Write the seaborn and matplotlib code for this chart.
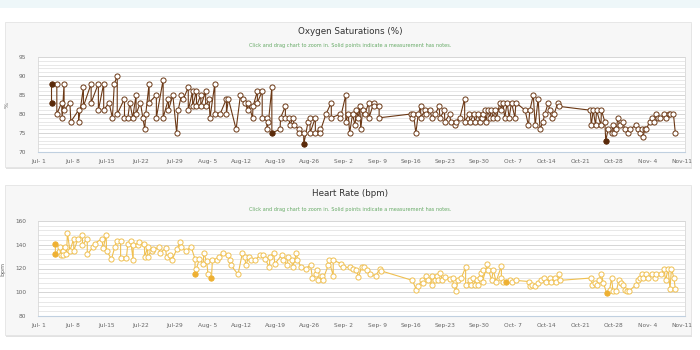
import matplotlib
matplotlib.use('Agg')
import matplotlib.pyplot as plt
from matplotlib.patches import Rectangle
from matplotlib.ticker import MultipleLocator
import pandas as pd
import seaborn as sns

START = pd.Timestamp('2014-07-01')

# oxygen saturation, days after Jul 1 and values (%)
o2_days = [2.6, 2.6, 3.7, 3.7, 4.7, 4.8, 5.2, 5.2, 6.4, 6.6,
           8.2, 8.2, 9.2, 9.2, 10.8, 10.8, 12.3, 12.3, 13.4, 13.4,
           14.5, 15.2, 15.6, 16.2, 16.2, 17.7, 17.7, 18.4, 18.8, 19.4,
           20.1, 20.1, 21.0, 21.5, 21.9, 22.1, 22.8, 22.8, 24.3, 24.3,
           25.7, 25.7, 26.8, 26.8, 27.7, 28.5, 28.8, 29.5, 29.9, 30.9,
           30.9, 31.8, 31.8, 32.6, 32.6, 33.5, 33.5, 34.5, 34.5, 35.2,
           35.4, 36.4, 36.4, 37.5, 38.8, 38.8, 39.2, 40.8, 41.7, 42.3,
           42.7, 43.2, 43.3, 44.2, 44.3, 45.2, 45.2, 46.2, 46.2, 47.1,
           47.2, 47.5, 48.2, 48.2, 49.9, 50.0, 51.0, 51.0, 51.8, 51.9,
           52.6, 52.8, 53.9, 53.9, 54.8, 54.8, 55.7, 56.1, 56.1, 57.2,
           57.2, 58.1, 58.1, 59.4, 60.5, 60.5, 62.4, 62.4, 63.5, 63.5,
           64.0, 64.3, 64.9, 65.4, 65.7, 66.1, 66.4, 66.6, 67.0, 67.4,
           68.3, 68.3, 69.3, 69.3, 70.4, 70.4, 77.0, 77.1, 77.5, 78.0,
           78.5, 79.0, 79.0, 79.9, 80.2, 80.9, 81.3, 82.0, 82.8, 83.0,
           83.9, 84.0, 85.0, 85.2, 86.1, 86.3, 87.1, 88.1, 88.1, 89.0,
           89.2, 90.0, 90.2, 90.9, 91.2, 91.6, 91.9, 92.3, 92.5, 92.9,
           93.3, 93.6, 94.0, 94.4, 94.7, 95.4, 95.7, 96.0, 96.4, 96.9,
           97.3, 97.8, 98.5, 98.7, 100.6, 101.3, 101.6, 102.3, 102.7, 103.3,
           103.7, 104.3, 104.7, 105.4, 105.7, 106.1, 106.6, 107.4, 107.7, 114.1,
           114.3, 114.7, 115.2, 115.4, 116.3, 116.4, 117.1, 117.3, 117.8, 118.5,
           118.8, 119.1, 119.5, 119.8, 120.2, 120.9, 121.2, 121.9, 122.3, 123.5,
           124.0, 124.3, 124.7, 125.0, 125.4, 125.7, 126.4, 126.8, 127.3, 127.7,
           128.2, 128.6, 129.4, 129.8, 130.3, 130.6, 131.3, 131.7]
o2_vals = [83, 88, 88, 80, 83, 79, 88, 81, 83, 78,
           81, 78, 87, 82, 88, 83, 88, 81, 88, 81,
           83, 79, 88, 90, 80, 84, 79, 79, 83, 79,
           85, 80, 83, 79, 76, 80, 88, 83, 85, 79,
           89, 79, 84, 81, 85, 75, 81, 85, 84, 87,
           81, 86, 82, 86, 82, 85, 82, 86, 82, 84,
           79, 88, 80, 80, 84, 80, 84, 76, 85, 84,
           83, 81, 83, 79, 82, 86, 83, 86, 79, 79,
           76, 78, 87, 75, 76, 79, 82, 79, 79, 77,
           79, 77, 76, 75, 75, 72, 78, 79, 75, 79,
           75, 76, 75, 80, 83, 79, 80, 79, 85, 78,
           80, 75, 80, 77, 81, 79, 82, 76, 81, 80,
           83, 79, 83, 82, 82, 79, 80, 79, 80, 75,
           80, 82, 79, 81, 80, 81, 79, 80, 82, 79,
           81, 78, 80, 78, 77, 78, 79, 84, 78, 80,
           78, 80, 78, 80, 78, 79, 80, 81, 78, 81,
           79, 81, 79, 81, 79, 83, 81, 83, 79, 83,
           79, 83, 79, 83, 81, 77, 81, 85, 77, 84,
           76, 78, 80, 83, 81, 79, 80, 83, 82, 81,
           77, 81, 77, 81, 77, 81, 78, 73, 76, 75,
           77, 75, 76, 79, 77, 78, 76, 75, 76, 77,
           76, 75, 76, 74, 76, 76, 78, 79, 78, 80,
           79, 79, 80, 79, 80, 80, 80, 75]
o2_note_days = [2.6, 2.6, 48.2, 54.8, 117.3]
o2_note_vals = [83, 88, 75, 72, 73]

# heart rate, days after Jul 1 and values (bpm)
hr_days = [3.4, 3.4, 4.3, 4.5, 5.0, 5.0, 5.4, 5.7, 5.9, 6.4,
           7.2, 7.2, 8.1, 9.0, 9.0, 10.0, 10.0, 11.2, 11.5, 13.0,
           13.3, 13.9, 14.0, 15.0, 15.7, 16.1, 16.9, 16.9, 18.1, 18.4,
           19.0, 19.5, 19.5, 20.6, 20.8, 21.8, 21.9, 22.5, 22.5, 23.3,
           23.7, 24.9, 25.0, 26.2, 26.4, 27.1, 27.5, 28.5, 29.2, 29.5,
           30.4, 31.5, 32.3, 32.3, 32.6, 33.2, 34.0, 34.1, 34.7, 35.0,
           35.7, 35.9, 36.9, 37.3, 38.0, 39.2, 39.5, 39.7, 41.2, 42.1,
           42.6, 42.8, 43.5, 43.8, 44.7, 45.7, 46.4, 46.8, 47.7, 47.8,
           48.6, 48.8, 50.2, 50.6, 51.4, 51.6, 52.3, 52.5, 53.3, 53.5,
           54.3, 55.2, 56.2, 56.6, 57.3, 57.6, 57.8, 58.5, 58.7, 59.9,
           60.0, 60.9, 60.9, 62.6, 63.0, 64.3, 65.0, 65.7, 66.1, 66.8,
           67.2, 67.8, 68.6, 69.7, 70.6, 70.8, 77.3, 78.1, 78.5, 79.2,
           79.5, 80.2, 80.6, 81.3, 81.3, 82.0, 82.3, 82.6, 83.1, 83.5,
           84.0, 85.0, 85.6, 85.8, 86.3, 86.7, 87.4, 88.3, 88.3, 89.2,
           89.5, 89.9, 90.2, 90.6, 90.9, 91.2, 91.4, 91.8, 91.8, 92.8,
           93.0, 93.7, 94.0, 94.6, 95.7, 95.7, 96.1, 96.6, 97.4, 98.0,
           98.7, 101.4, 101.6, 102.1, 102.6, 103.3, 104.0, 104.6, 105.0, 105.7,
           106.0, 106.7, 107.1, 107.6, 107.8, 114.3, 114.5, 115.0, 115.5, 115.9,
           116.4, 116.8, 117.5, 118.1, 118.5, 118.8, 119.5, 120.0, 120.5, 120.9,
           121.2, 121.8, 122.1, 123.5, 124.0, 124.3, 124.7, 125.0, 125.6, 126.1,
           126.8, 127.4, 127.8, 128.8, 129.3, 129.7, 130.2, 130.6, 130.9, 131.4,
           131.7]
hr_vals = [141, 132, 138, 131, 135, 131, 138, 132, 150, 135,
           145, 135, 145, 148, 140, 145, 132, 138, 141, 145,
           137, 148, 135, 128, 138, 143, 143, 129, 129, 141,
           143, 127, 140, 140, 142, 141, 130, 138, 130, 135,
           136, 138, 133, 137, 130, 131, 127, 136, 142, 138,
           135, 138, 128, 115, 120, 128, 124, 133, 126, 115,
           112, 127, 127, 130, 133, 131, 127, 123, 115, 133,
           130, 123, 130, 127, 127, 131, 131, 128, 121, 130,
           133, 124, 131, 127, 123, 130, 127, 121, 133, 127,
           121, 120, 123, 112, 115, 119, 110, 114, 110, 123,
           127, 114, 127, 124, 121, 121, 120, 119, 113, 121,
           121, 119, 115, 114, 120, 118, 110, 102, 105, 110,
           108, 114, 110, 106, 114, 110, 114, 110, 116, 110,
           113, 111, 112, 106, 101, 110, 112, 121, 106, 110,
           106, 112, 106, 110, 106, 112, 116, 119, 109, 124,
           119, 110, 119, 109, 122, 112, 109, 109, 110, 109,
           110, 109, 105, 106, 105, 108, 110, 112, 109, 112,
           109, 112, 109, 115, 110, 112, 106, 108, 106, 110,
           115, 108, 99, 102, 112, 101, 101, 110, 108, 106,
           102, 101, 101, 106, 110, 112, 115, 112, 115, 112,
           115, 112, 115, 115, 120, 110, 120, 103, 120, 112,
           103]
hr_note_days = [3.4, 3.4, 32.3, 35.7, 96.6, 117.5]
hr_note_vals = [141, 132, 115, 112, 109, 99]

tick_labels = ['Jul- 1', 'Jul- 8', 'Jul-15', 'Jul-22', 'Jul-29', 'Aug- 5', 'Aug-12',
               'Aug-19', 'Aug-26', 'Sep- 2', 'Sep- 9', 'Sep-16', 'Sep-23', 'Sep-30',
               'Oct- 7', 'Oct-14', 'Oct-21', 'Oct-28', 'Nov- 4', 'Nov-11']

SUBTITLE = 'Click and drag chart to zoom in. Solid points indicate a measurement has notes.'

W, H = 700, 350


def to_frame(days, vals):
    return pd.DataFrame({'date': START + pd.to_timedelta(days, unit='D'), 'value': vals})


def panel(fig, top, bottom):
    # grey card behind each chart, with a faint shadow
    fig.add_artist(Rectangle((6 / W, 1 - (bottom + 2) / H), 686 / W, (bottom - top) / H,
                             transform=fig.transFigure, fc='#e2e2e2', ec='none', zorder=-3))
    fig.add_artist(Rectangle((5 / W, 1 - bottom / H), 686 / W, (bottom - top) / H,
                             transform=fig.transFigure, fc='#f7f7f7', ec='#e4e4e4', lw=0.6, zorder=-2))


def draw(ax, days, vals, note_days, note_vals, color, note_color, ylim, major, minor, ylabel):
    df = to_frame(days, vals)
    notes = to_frame(note_days, note_vals)
    sns.lineplot(data=df, x='date', y='value', ax=ax, color=color, lw=0.8,
                 estimator=None, sort=False, marker='o', markersize=3.7,
                 markerfacecolor='white', markeredgecolor=color, markeredgewidth=0.7, zorder=3)
    sns.scatterplot(data=notes, x='date', y='value', ax=ax, color=note_color, s=13,
                    edgecolor=note_color, linewidth=0.6, zorder=4)

    ax.set_facecolor('white')
    ax.set_xlim(START - pd.Timedelta(days=0.3), START + pd.Timedelta(days=133.7))
    ax.set_ylim(*ylim)
    ax.set_xticks(pd.date_range(START, periods=len(tick_labels), freq='7D'))
    ax.set_xticklabels(tick_labels)
    ax.yaxis.set_major_locator(MultipleLocator(major))
    ax.yaxis.set_minor_locator(MultipleLocator(minor))
    ax.grid(which='major', axis='y', color='#cfcfcf', lw=0.6)
    ax.grid(which='minor', axis='y', color='#dfdfdf', lw=0.5)
    ax.set_axisbelow(True)
    ax.set_xlabel('')
    ax.set_ylabel(ylabel, fontsize=4.5, color='#666666', labelpad=7)
    ax.tick_params(axis='x', labelsize=4.2, colors='#666666', length=3, width=0.5,
                   color='#c0d0e0', pad=2)
    ax.tick_params(axis='y', which='major', labelsize=4.2, colors='#666666', length=2,
                   width=0.5, color='#c8c8c8', pad=6)
    ax.tick_params(axis='y', which='minor', length=1.5, width=0.4, color='#c8c8c8')
    for side in ['top', 'right', 'left']:
        ax.spines[side].set_color('#d8d8d8')
        ax.spines[side].set_linewidth(0.6)
    ax.spines['bottom'].set_color('#c0d0e0')
    ax.spines['bottom'].set_linewidth(0.8)


sns.set_theme(style='white')
plt.rcParams['font.family'] = ['DejaVu Sans']

fig = plt.figure(figsize=(7, 3.5), dpi=100)
fig.patch.set_facecolor('white')
fig.add_artist(Rectangle((0, 1 - 8 / H), 1, 8 / H, transform=fig.transFigure,
                         fc='#eef7f9', ec='none', zorder=-4))

panel(fig, 22, 167)
panel(fig, 185, 335)

ax1 = fig.add_axes([37.5 / W, 1 - 152 / H, 647.5 / W, 95 / H])
ax2 = fig.add_axes([37.5 / W, 1 - 316 / H, 647.5 / W, 95 / H])

draw(ax1, o2_days, o2_vals, o2_note_days, o2_note_vals, '#6b3815', '#5a2a0a',
     (70, 95), 5, 1, '%')
draw(ax2, hr_days, hr_vals, hr_note_days, hr_note_vals, '#f0c050', '#eeb033',
     (80, 160), 20, 4, 'bpm')

fig.text(0.5, 1 - 31 / H, 'Oxygen Saturations (%)', ha='center', va='center',
         fontsize=6.3, color='#333333')
fig.text(0.5, 1 - 46 / H, SUBTITLE, ha='center', va='center', fontsize=3.6, color='#66aa66')
fig.text(0.5, 1 - 194 / H, 'Heart Rate (bpm)', ha='center', va='center',
         fontsize=6.3, color='#333333')
fig.text(0.5, 1 - 209 / H, SUBTITLE, ha='center', va='center', fontsize=3.6, color='#66aa66')

fig.savefig('out.png', dpi=100)
